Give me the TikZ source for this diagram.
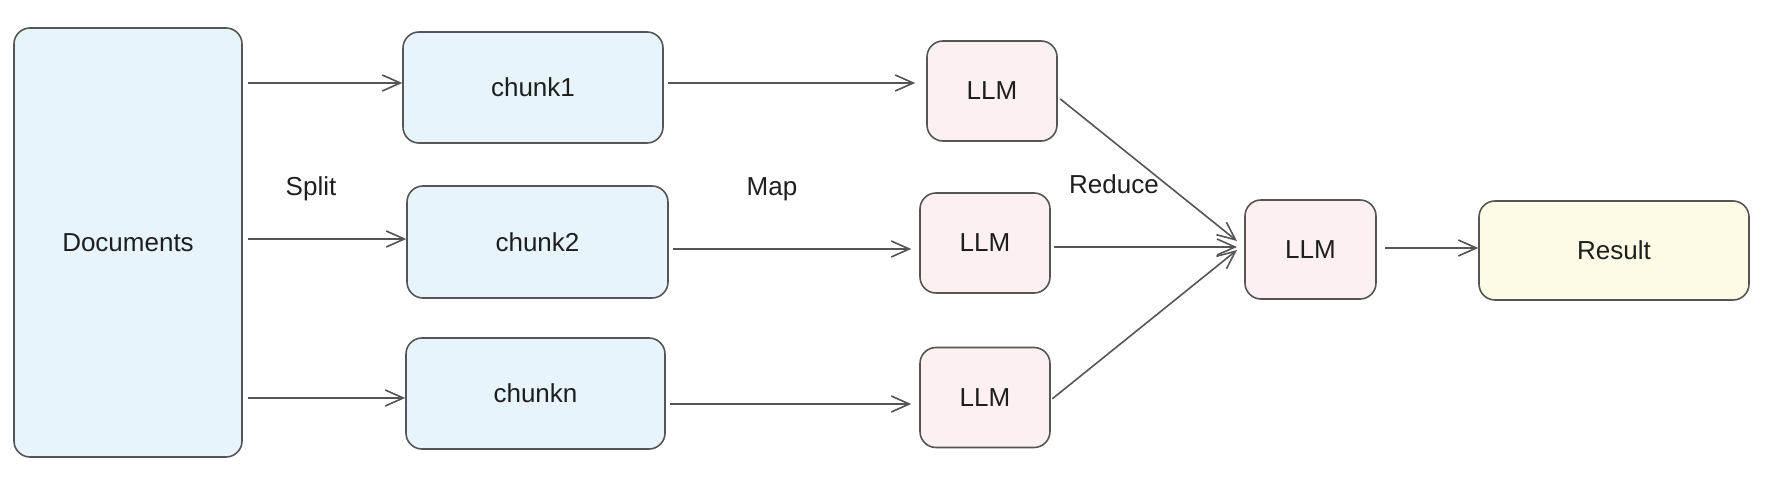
\documentclass[tikz,border=0pt]{standalone}
\usepackage{fontspec}
\setmainfont{Liberation Sans}
\usetikzlibrary{arrows.meta}
\definecolor{bluefill}{RGB}{231,244,252}
\definecolor{pinkfill}{RGB}{253,240,240}
\definecolor{yellowfill}{RGB}{253,251,230}
\definecolor{edge}{RGB}{85,85,85}
\definecolor{ink}{RGB}{30,30,30}
\tikzset{
  box/.style={draw=edge, line width=0.8pt, rounded corners=8pt, inner sep=0pt,
    font=\fontsize{13}{15}\selectfont, text=ink},
  bluebox/.style={box, fill=bluefill},
  pinkbox/.style={box, fill=pinkfill, minimum width=65pt, minimum height=50pt},
  yellowbox/.style={box, fill=yellowfill},
  arr/.style={draw=edge, line width=0.8pt, -{Straight Barb[length=9pt,width=8pt,line width=0.8pt]}},
  lbl/.style={font=\fontsize{13}{15}\selectfont, text=ink}
}
\begin{document}
\begin{tikzpicture}[x=0.5pt,y=-0.5pt]
\useasboundingbox (0,0) rectangle (1768,502);
\node[bluebox, minimum width=114pt, minimum height=214.5pt] (docs) at (128,242.5) {Documents};
\node[bluebox, minimum width=130pt, minimum height=55.5pt] (c1) at (533,87.5) {chunk1};
\node[bluebox, minimum width=130.5pt, minimum height=56pt] (c2) at (537.5,242) {chunk2};
\node[bluebox, minimum width=129.5pt, minimum height=55.5pt] (cn) at (535.5,393.5) {chunkn};
\node[pinkbox] (l1) at (992,91) {LLM};
\node[pinkbox] (l2) at (985,243) {LLM};
\node[pinkbox] (l3) at (985,397.5) {LLM};
\node[pinkbox, minimum width=65.5pt, minimum height=49.5pt] (l4) at (1310.5,249.5) {LLM};
\node[yellowbox, minimum width=135pt, minimum height=49.5pt] (res) at (1614,250.5) {Result};

\coordinate (d1) at (docs.east |- 0,83);
\coordinate (d2) at (docs.east |- 0,239);
\coordinate (d3) at (docs.east |- 0,398);
\draw[arr, shorten <=2.5pt] (d1) -- (c1.west |- d1);
\draw[arr, shorten <=2.5pt] (d2) -- (c2.west |- d2);
\draw[arr, shorten <=2.5pt] (d3) -- (cn.west |- d3);

\coordinate (e1) at (c1.east |- 0,83);
\coordinate (e2) at (c2.east |- 0,249);
\coordinate (e3) at (cn.east |- 0,404);
\draw[arr, shorten <=2pt, shorten >=5.5pt] (e1) -- (l1.west |- e1);
\draw[arr, shorten <=2pt, shorten >=4pt] (e2) -- (l2.west |- e2);
\draw[arr, shorten <=2pt, shorten >=4pt] (e3) -- (l3.west |- e3);

\coordinate (f1) at (l1.east |- 0,97);
\coordinate (f3) at (l3.east |- 0,400);
\coordinate (t1) at (1237,241);
\coordinate (t2) at (1237,247);
\coordinate (t3) at (1237,250);
\draw[arr, shorten <=1.5pt] (f1) -- (t1);
\draw[arr, shorten <=1.5pt] (l2.east |- t2) -- (t2);
\draw[arr, shorten <=1pt] (f3) -- (t3);

\draw[arr, shorten <=4pt] (l4.east |- 0,248) -- (res.west |- 0,248);

\node[lbl] (split) at (311,189) {Split};
\node[lbl] (map) at (772,189) {Map};
\node[lbl] (reduce) at (1114,184) {Reduce};
\end{tikzpicture}
\end{document}
